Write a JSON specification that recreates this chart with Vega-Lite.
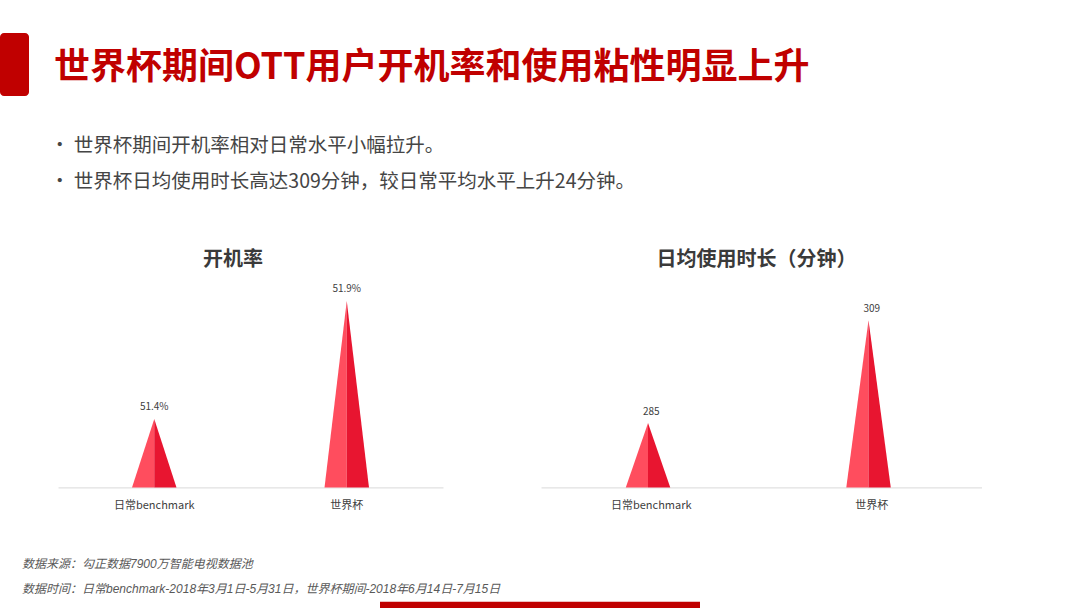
{
  "$schema": "https://vega.github.io/schema/vega-lite/v6.json",
  "background": "white",
  "padding": {"left": 0, "top": 33, "right": 0, "bottom": 0},
  "autosize": {"type": "pad"},
  "spacing": 39.4,
  "config": {
    "view": {"stroke": null},
    "font": "Noto Sans CJK SC",
    "axisX": {
      "domainColor": "#D9D9D9",
      "domainWidth": 1,
      "ticks": false,
      "tickSize": 0,
      "grid": false,
      "labelAngle": 0,
      "labelPadding": 12.2,
      "labelFontSize": 11,
      "labelColor": "#404040",
      "labelFont": "Noto Sans CJK SC"
    }
  },
  "vconcat": [
    {
      "width": 29,
      "height": 63,
      "view": {"fill": "#C00000", "stroke": null, "cornerRadius": 4},
      "data": {"values": [{}]},
      "mark": {"type": "point", "opacity": 0},
      "encoding": {},
      "title": {
        "text": "世界杯期间OTT用户开机率和使用粘性明显上升",
        "orient": "right",
        "angle": 0,
        "align": "right",
        "baseline": "middle",
        "anchor": "middle",
        "offset": 25,
        "dy": 3,
        "fontSize": 36,
        "fontWeight": "bold",
        "color": "#C00000",
        "font": "Noto Sans CJK SC"
      }
    },
    {
      "spacing": 0,
      "title": {
        "text": ["•   世界杯期间开机率相对日常水平小幅拉升。", "•   世界杯日均使用时长高达309分钟，较日常平均水平上升24分钟。"],
        "anchor": "start",
        "frame": "bounds",
        "dx": 50,
        "offset": 57.7,
        "fontSize": 19.5,
        "fontWeight": "normal",
        "lineHeight": 36,
        "color": "#454545",
        "font": "Noto Sans CJK SC"
      },
      "hconcat": [
        {
          "width": 58,
          "height": 1,
          "data": {"values": [{}]},
          "mark": {"type": "point", "opacity": 0},
          "encoding": {}
        },
        {
          "spacing": 98,
          "hconcat": [
            {
              "width": 385,
              "height": 210,
              "title": {"text": "开机率", "fontSize": 20, "fontWeight": "bold", "color": "#3A3A3A", "font": "Noto Sans CJK SC", "offset": 7.4, "dx": -17.5, "anchor": "middle"},
              "data": {"values": [
                {"period": "日常benchmark", "value": 51.4, "label": "51.4%"},
                {"period": "世界杯", "value": 51.9, "label": "51.9%"}
              ]},
              "encoding": {
                "x": {"field": "period", "type": "nominal", "sort": null,
                      "scale": {"type": "band", "paddingInner": 0.769, "paddingOuter": 0.3845},
                      "axis": {"title": null}},
                "y": {"field": "value", "type": "quantitative", "stack": null,
                      "scale": {"domain": [51.11, 52.0], "zero": false, "nice": false},
                      "axis": null}
              },
              "layer": [
                {
                  "transform": [
                    {"fold": ["value"], "as": ["vertex", "value"]},
                    {"impute": "value", "key": "vertex", "keyvals": ["left", "value"], "groupby": ["period"], "value": 51.11}
                  ],
                  "mark": {"type": "area", "color": "#FF4D5E", "interpolate": "linear"},
                  "encoding": {
                    "xOffset": {"field": "vertex", "type": "nominal", "scale": {"type": "point", "padding": 0, "domain": ["left", "value", "right"]}},
                    "y2": {"datum": 51.11},
                    "detail": {"field": "period", "type": "nominal"}
                  }
                },
                {
                  "transform": [
                    {"fold": ["value"], "as": ["vertex", "value"]},
                    {"impute": "value", "key": "vertex", "keyvals": ["value", "right"], "groupby": ["period"], "value": 51.11}
                  ],
                  "mark": {"type": "area", "color": "#E81530", "interpolate": "linear"},
                  "encoding": {
                    "xOffset": {"field": "vertex", "type": "nominal", "scale": {"type": "point", "padding": 0, "domain": ["left", "value", "right"]}},
                    "y2": {"datum": 51.11},
                    "detail": {"field": "period", "type": "nominal"}
                  }
                },
                {
                  "mark": {"type": "text", "fontSize": 10, "color": "#404040", "baseline": "alphabetic", "dy": -8.5, "font": "Noto Sans CJK SC"},
                  "encoding": {"text": {"field": "label"}}
                }
              ]
            },
            {
              "width": 441,
              "height": 210,
              "title": {"text": "日均使用时长（分钟）", "fontSize": 20, "fontWeight": "bold", "color": "#3A3A3A", "font": "Noto Sans CJK SC", "offset": 7.4, "dx": -5, "anchor": "middle"},
              "data": {"values": [
                {"period": "日常benchmark", "value": 285, "label": "285"},
                {"period": "世界杯", "value": 309, "label": "309"}
              ]},
              "encoding": {
                "x": {"field": "period", "type": "nominal", "sort": null,
                      "scale": {"type": "band", "paddingInner": 0.769, "paddingOuter": 0.3845},
                      "axis": {"title": " ", "titleFontSize": 7, "titlePadding": 0}},
                "y": {"field": "value", "type": "quantitative", "stack": null,
                      "scale": {"domain": [270, 319], "zero": false, "nice": false},
                      "axis": null}
              },
              "layer": [
                {
                  "transform": [
                    {"fold": ["value"], "as": ["vertex", "value"]},
                    {"impute": "value", "key": "vertex", "keyvals": ["left", "value"], "groupby": ["period"], "value": 270}
                  ],
                  "mark": {"type": "area", "color": "#FF4D5E", "interpolate": "linear"},
                  "encoding": {
                    "xOffset": {"field": "vertex", "type": "nominal", "scale": {"type": "point", "padding": 0, "domain": ["left", "value", "right"]}},
                    "y2": {"datum": 270},
                    "detail": {"field": "period", "type": "nominal"}
                  }
                },
                {
                  "transform": [
                    {"fold": ["value"], "as": ["vertex", "value"]},
                    {"impute": "value", "key": "vertex", "keyvals": ["value", "right"], "groupby": ["period"], "value": 270}
                  ],
                  "mark": {"type": "area", "color": "#E81530", "interpolate": "linear"},
                  "encoding": {
                    "xOffset": {"field": "vertex", "type": "nominal", "scale": {"type": "point", "padding": 0, "domain": ["left", "value", "right"]}},
                    "y2": {"datum": 270},
                    "detail": {"field": "period", "type": "nominal"}
                  }
                },
                {
                  "mark": {"type": "text", "fontSize": 10, "color": "#404040", "baseline": "alphabetic", "dy": -8.5, "font": "Noto Sans CJK SC"},
                  "encoding": {"text": {"field": "label"}}
                }
              ]
            }
          ]
        }
      ]
    },
    {
      "spacing": 0,
      "title": {
        "text": ["数据来源：勾正数据7900万智能电视数据池", "数据时间：日常benchmark-2018年3月1日-5月31日，世界杯期间-2018年6月14日-7月15日"],
        "anchor": "start",
        "frame": "bounds",
        "dx": 22,
        "offset": 5.4,
        "fontSize": 12,
        "lineHeight": 25,
        "fontStyle": "italic",
        "fontWeight": "normal",
        "color": "#595959",
        "font": "Liberation Sans, Noto Sans CJK SC"
      },
      "hconcat": [
        {
          "width": 380,
          "height": 7,
          "data": {"values": [{}]},
          "mark": {"type": "point", "opacity": 0, "size": 1},
          "encoding": {}
        },
        {
          "width": 320,
          "height": 7,
          "view": {"fill": "#C00000", "stroke": null},
          "data": {"values": [{}]},
          "mark": {"type": "point", "opacity": 0, "size": 1},
          "encoding": {}
        }
      ]
    }
  ]
}
